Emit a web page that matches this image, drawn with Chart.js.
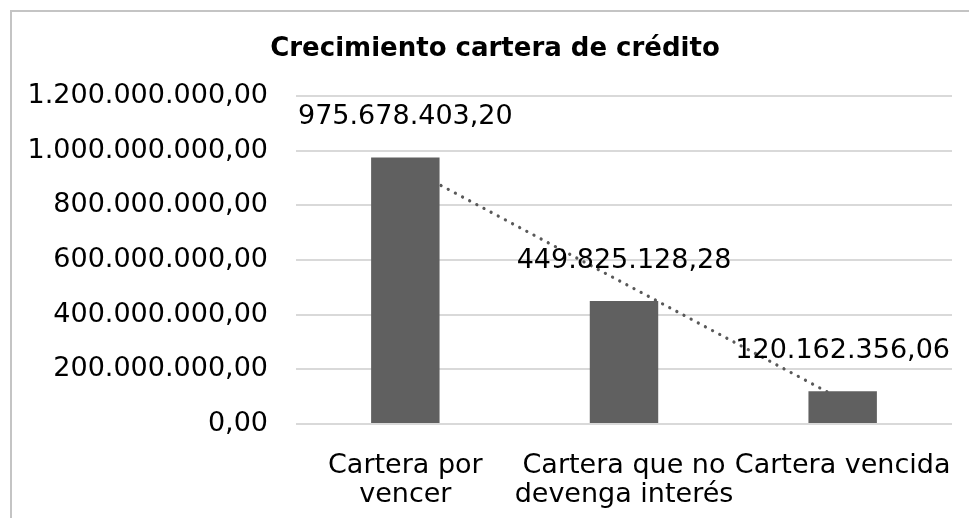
<!DOCTYPE html>
<html>
<head>
<meta charset="utf-8">
<script src="https://cdn.jsdelivr.net/npm/chart.js@4/dist/chart.umd.min.js"></script>
<style>
  html, body { margin: 0; padding: 0; background: #ffffff; }
  #wrap { width: 969px; height: 518px; }
</style>
</head>
<body>
<div id="wrap"><canvas id="c" width="969" height="518"></canvas></div>
<script>
// ---- data ----
const chartTitle = 'Crecimiento cartera de crédito';
const categories = [['Cartera por', 'vencer'], ['Cartera que no', 'devenga interés'], ['Cartera vencida']];
const carteraValues = [975678403.20, 449825128.28, 120162356.06];
const trendValues = [942980000, 515220000, 87460000];   // dotted trendline
const yTickValues = [0, 200000000, 400000000, 600000000, 800000000, 1000000000, 1200000000];

function fmt(v) {
  const s = Math.abs(v).toFixed(2);
  const parts = s.split('.');
  const intPart = parts[0].replace(/\B(?=(\d{3})+(?!\d))/g, '.');
  return (v < 0 ? '-' : '') + intPart + ',' + parts[1];
}

const FONT = "'DejaVu Sans', Verdana, sans-serif";

const framePlugin = {
  id: 'frame',
  afterLayout(chart) {
    // centre the title over the framed chart box like the reference
    if (chart.titleBlock) { chart.titleBlock.left = 38; }
  },
  beforeDraw(chart) {
    const ctx = chart.ctx;
    ctx.save();
    ctx.fillStyle = '#ffffff';
    ctx.fillRect(0, 0, chart.width, chart.height);
    ctx.fillStyle = '#c4c4c4';
    ctx.fillRect(10, 10, chart.width - 10, 2);
    ctx.fillRect(10, 10, 2, chart.height - 10);
    ctx.restore();
  }
};

const labelPlugin = {
  id: 'barLabels',
  afterDatasetsDraw(chart) {
    const ctx = chart.ctx;
    const meta = chart.getDatasetMeta(0);
    ctx.save();
    ctx.font = '27px ' + FONT;
    ctx.fillStyle = '#000000';
    ctx.textAlign = 'center';
    ctx.textBaseline = 'middle';
    meta.data.forEach((el, i) => {
      ctx.fillText(fmt(carteraValues[i]), el.x, el.y - 40);
    });
    ctx.restore();
  }
};

new Chart(document.getElementById('c'), {
  type: 'bar',
  data: {
    labels: categories,
    datasets: [
      {
        type: 'bar',
        label: 'Cartera',
        data: carteraValues,
        backgroundColor: '#606060',
        borderWidth: 0,
        barPercentage: 1,
        categoryPercentage: 0.313,
        order: 1
      },
      {
        type: 'line',
        label: 'Tendencia',
        data: trendValues,
        borderColor: '#595959',
        borderWidth: 3.2,
        borderDash: [0.1, 8],
        borderCapStyle: 'round',
        pointRadius: 0,
        fill: false,
        tension: 0,
        order: 2
      }
    ]
  },
  options: {
    responsive: false,
    animation: false,
    devicePixelRatio: 1,
    layout: { padding: { left: 0, right: 17, top: 0, bottom: 0 } },
    plugins: {
      legend: { display: false },
      tooltip: { enabled: false },
      title: {
        display: true,
        text: chartTitle,
        color: '#000000',
        font: { family: FONT, size: 26, weight: 'bold', lineHeight: 1.2 },
        padding: { top: 34, bottom: 31 }
      }
    },
    scales: {
      x: {
        grid: { display: false },
        border: { display: false },
        ticks: {
          color: '#000000',
          font: { family: FONT, size: 27, lineHeight: 1.08 },
          padding: 19,
          maxRotation: 0,
          autoSkip: false
        },
        afterFit(scale) {
          scale.height = 94;
          scale.paddingLeft = 0;
          scale.paddingRight = 0;
        }
      },
      y: {
        min: 0,
        max: 1200000000,
        afterBuildTicks(scale) { scale.ticks = yTickValues.map(v => ({ value: v })); },
        grid: { color: '#d9d9d9', lineWidth: 2, drawTicks: false },
        border: { display: false },
        ticks: {
          color: '#000000',
          font: { family: FONT, size: 27 },
          padding: 28,
          callback: (v) => fmt(v)
        },
        afterFit(scale) { scale.width = 296; }
      }
    }
  },
  plugins: [framePlugin, labelPlugin]
});
</script>
</body>
</html>
